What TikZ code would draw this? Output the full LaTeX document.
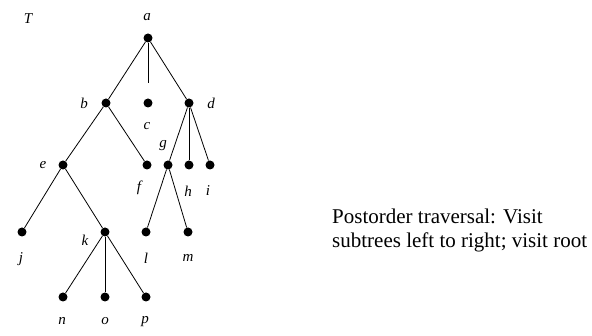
\documentclass[tikz,border=0pt]{standalone}
\usepackage{fontspec}
\setmainfont{Liberation Serif}
\begin{document}
\begin{tikzpicture}[x=1pt,y=-1pt,
  vertex/.style={circle,fill=black,inner sep=0pt,minimum size=9pt},
  vlabel/.style={font=\fontsize{15}{15}\selectfont\itshape,inner sep=0pt},
  edge/.style={line width=0.8pt}]
\useasboundingbox (0,0) rectangle (592,336);
% vertices of the tree T
\foreach \n/\x/\y in {
  a/148/38,
  b/106/103, c/148/103, d/189/103,
  e/63/165, f/147/165, g/168/165, h/189/165, i/210/165,
  j/22/232, k/105/232, l/146/232, m/188/232,
  n/63/297, o/105/297, p/146/297
} {
  \node[vertex] (\n) at (\x,\y) {};
}
% vertex labels
\foreach \n/\x/\y in {
  a/147/17,
  b/84/103, c/147/126, d/211/103,
  e/43/165, f/139/188, g/163/146, h/188/191, i/208/191,
  j/21/259, k/85/240, l/146/258, m/188/258,
  n/62/321, o/105/321, p/145/322
} {
  \node[vlabel] (lbl\n) at (\x,\y) {\n};
}
\node[vlabel] (lblT) at (28,19) {T};
% edges
\foreach \u/\v in {a/b, a/d, b/e, b/f, d/g, d/h, d/i, e/j, e/k, g/l, g/m, k/n, k/o, k/p} {
  \draw[edge] (\u) -- (\v);
}
\draw[edge, shorten >=15pt] (a) -- (c);
\node[align=left, anchor=west, inner sep=0pt, font=\fontsize{21}{24}\selectfont] (caption) at (332,230)
  {Postorder traversal: Visit\\subtrees left to right; visit root};
\end{tikzpicture}
\end{document}
